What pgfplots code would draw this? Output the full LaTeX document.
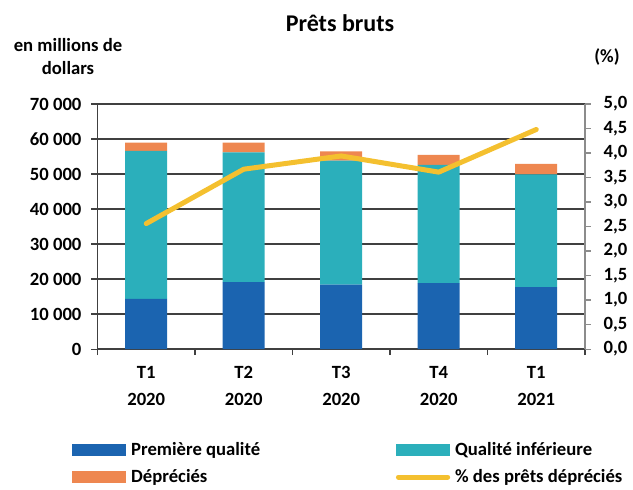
\documentclass[border=0pt]{standalone}
\usepackage{pgfplots}
\pgfplotsset{compat=1.18}
\usepackage{fontspec}
\setmainfont{Carlito}
\definecolor{cblue}{HTML}{1B64B0}
\definecolor{cteal}{HTML}{2BAFBB}
\definecolor{corange}{HTML}{EE8750}
\definecolor{cyellow}{HTML}{F4C02F}
\definecolor{cgrid}{HTML}{404040}
\definecolor{caxis}{HTML}{8C8C8C}
\newcommand{\tf}{\bfseries\fontsize{14}{16}\selectfont}
\begin{document}
\begin{tikzpicture}
\useasboundingbox (-73.1pt,-105pt) rectangle (401.6pt,261.75pt);
\begin{axis}[
  at={(0,0)}, anchor=south west, scale only axis,
  width=365.6pt, height=183.75pt,
  xmin=-0.5, xmax=4.5, ymin=0, ymax=70000,
  ybar stacked, bar width=31.5pt,
  axis x line*=bottom, axis y line*=left,
  axis line style={cgrid, line width=0.8pt, -},
  xtick={0,1,2,3,4},
  xticklabels={{T1\\[4pt]2020},{T2\\[4pt]2020},{T3\\[4pt]2020},{T4\\[4pt]2020},{T1\\[4pt]2021}},
  major x tick style={draw=none},
  minor xtick={-0.5,0.5,1.5,2.5,3.5,4.5},
  minor x tick style={cgrid, line width=0.8pt},
  minor tick length=4.5pt,
  xtick align=outside,
  x tick label style={align=center, font=\tf, yshift=-5pt},
  ytick={0,10000,...,70000},
  ytick align=outside, major tick length=4.5pt,
  y tick style={cgrid, line width=0.8pt},
  ymajorgrids, grid style={cgrid, line width=0.9pt},
  scaled y ticks=false,
  y tick label style={font=\tf, xshift=-4pt},
  /pgf/number format/assume math mode=true,
  /pgf/number format/1000 sep={\ },
]
\addplot[fill=cblue, draw=none] coordinates {(0,14300) (1,19100) (2,18400) (3,18800) (4,17700)};
\addplot[fill=cteal, draw=none] coordinates {(0,42300) (1,37100) (2,35400) (3,33800) (4,32200)};
\addplot[fill=corange, draw=none] coordinates {(0,2400) (1,2800) (2,2700) (3,2900) (4,3000)};
\end{axis}
\begin{axis}[
  at={(0,0)}, anchor=south west, scale only axis,
  width=365.6pt, height=183.75pt,
  xmin=-0.5, xmax=4.5, ymin=0, ymax=5,
  axis x line=none, axis y line*=right,
  axis line style={caxis, line width=0.8pt, -},
  ytick={0,0.5,...,5},
  ytick align=outside, major tick length=4.5pt,
  y tick style={caxis, line width=0.8pt},
  y tick label style={font=\tf, xshift=6pt},
  /pgf/number format/assume math mode=true,
  /pgf/number format/.cd, fixed, fixed zerofill, precision=1, use comma,
  /pgfplots/.cd,
  legend columns=2,
  legend style={draw=none, fill=none, at={(-0.0606,-0.358)}, anchor=north west,
    font=\tf, nodes={inner sep=2pt},
    /tikz/every odd column/.append style={column sep=1.75pt},
    /tikz/every even column/.append style={column sep=99.75pt},
    row sep=5pt},
  legend cell align=left,
]
\addlegendimage{fill=cblue, draw=none, legend image code/.code={\fill (0pt,-4.4pt) rectangle (40.5pt,4.4pt);}}
\addlegendentry{Première qualité}
\addlegendimage{fill=cteal, draw=none, legend image code/.code={\fill (0pt,-4.4pt) rectangle (40.5pt,4.4pt);}}
\addlegendentry{Qualité inférieure}
\addlegendimage{fill=corange, draw=none, legend image code/.code={\fill (0pt,-4.4pt) rectangle (40.5pt,4.4pt);}}
\addlegendentry{Dépréciés}
\addplot[cyellow, line width=3.75pt, line join=round, line cap=round, mark=none,
  legend image code/.code={\draw (1.8pt,0pt) -- (38.7pt,0pt);}]
  coordinates {(0,2.56) (1,3.67) (2,3.94) (3,3.61) (4,4.48)};
\addlegendentry{\% des prêts dépréciés}
\end{axis}
\node[font=\bfseries\fontsize{18}{20}\selectfont, anchor=base] at (181.9pt,238pt) {Prêts bruts};
\node[font=\tf, align=center, anchor=center] at (-22.1pt,219.4pt) {en millions de\\[1pt]dollars};
\node[font=\tf, anchor=center] at (382.1pt,219pt) {(\%)};
\end{tikzpicture}
\end{document}
